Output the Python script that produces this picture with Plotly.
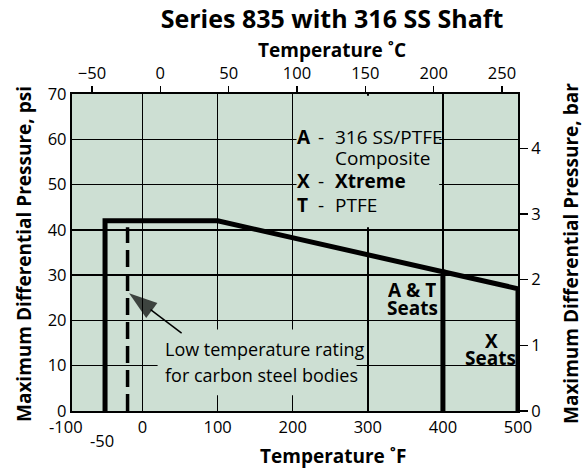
import plotly.graph_objects as go

# ---------------- data ----------------
at_temp_f = [-50, -50, 100, 400, 400]
at_psi = [0, 42, 42, 30.75, 0]
x_temp_f = [400, 500, 500]
x_psi = [30.75, 27, 0]
cs_temp_f = [-20, -20]
cs_psi = [0, 40.6]
arrow_temp_f = [52, -18]
arrow_psi = [17.2, 26]

f_ticks = [0, 100, 200, 300, 400, 500]
f_min_label = "-100"
f_low_label = "-50"
c_ticks = [-50, 0, 50, 100, 150, 200, 250]
psi_ticks = [0, 10, 20, 30, 40, 50, 60, 70]
bar_ticks = [0, 1, 2, 3, 4]
PSI_PER_BAR = 14.5038

F_RANGE = [-94, 500]
C_RANGE = [-64.6, 261.7]
PSI_MAX = 70

BG = "#cddfd3"
FONT = "Open Sans"

# plot-area geometry (pixels)
L, R, T, B = 72, 518, 94, 411
W, H = 583, 471


def px(x):
    return (x - L) / (R - L)


def py(y):
    return (B - y) / (B - T)


fig = go.Figure()

line_style = dict(color="black", width=5)
fig.add_trace(go.Scatter(x=at_temp_f, y=at_psi, mode="lines", line=line_style,
                         cliponaxis=False, hoverinfo="skip", showlegend=False))
fig.add_trace(go.Scatter(x=x_temp_f, y=x_psi, mode="lines", line=line_style,
                         cliponaxis=False, hoverinfo="skip", showlegend=False))
fig.add_trace(go.Scatter(x=cs_temp_f, y=cs_psi, mode="lines",
                         line=dict(color="black", width=3.5, dash="17px,7px"),
                         hoverinfo="skip", showlegend=False))
fig.add_trace(go.Scatter(x=arrow_temp_f, y=arrow_psi, mode="lines+markers",
                         line=dict(color="black", width=1.5),
                         marker=dict(symbol="arrow", size=[0, 30], color="black",
                                     angleref="previous", line=dict(width=0)),
                         hoverinfo="skip", showlegend=False))
# traces that bind the secondary axes
fig.add_trace(go.Scatter(x=[None], y=[None], xaxis="x2", yaxis="y", showlegend=False))
fig.add_trace(go.Scatter(x=[None], y=[None], xaxis="x", yaxis="y2", showlegend=False))

tickfont = dict(family=FONT, size=16.5, color="black")

fig.update_layout(
    width=W, height=H, autosize=False,
    margin=dict(l=L, r=W - R, t=T, b=H - B),
    paper_bgcolor="white", plot_bgcolor=BG,
    showlegend=False,
    title=dict(text="<b>Series 835 with 316 SS Shaft</b>", x=332 / W, y=1 - 19 / H,
               xanchor="center", yanchor="middle",
               font=dict(family=FONT, size=25, color="black")),
    xaxis=dict(range=F_RANGE, tickvals=f_ticks,
               showgrid=True, gridcolor="black", gridwidth=1.4,
               zeroline=False, showline=True, linecolor="black", linewidth=2.2,
               mirror=True, ticks="", tickfont=tickfont),
    xaxis2=dict(range=C_RANGE, tickvals=c_ticks,
                overlaying="x", side="top", showgrid=False, zeroline=False,
                ticks="outside", ticklen=7, tickwidth=1.3, tickcolor="black",
                tickfont=tickfont),
    yaxis=dict(range=[0, PSI_MAX], tickvals=psi_ticks, showgrid=True,
               gridcolor="black", gridwidth=1.4, zeroline=False, showline=True,
               linecolor="black", linewidth=2.2, mirror=True, ticks="",
               tickfont=tickfont),
    yaxis2=dict(range=[0, PSI_MAX / PSI_PER_BAR], tickvals=bar_ticks,
                overlaying="y", side="right", showgrid=False, zeroline=False,
                ticks="outside", ticklen=9, tickwidth=1.3, tickcolor="black",
                tickfont=tickfont),
)

# masks hiding gridlines behind the text blocks
fig.add_shape(type="rect", xref="x", yref="y", x0=205, x1=395, y0=40.6, y1=69.6,
              fillcolor=BG, line=dict(width=0), layer="between")
fig.add_shape(type="rect", xref="x", yref="y", x0=20, x1=285, y0=3.5, y1=18,
              fillcolor=BG, line=dict(width=0), layer="between")

ann = []


def text(x, y, s, size=16, bold=False, anchor="center", height=None):
    a = dict(xref="paper", yref="paper", x=px(x), y=py(y),
             text=f"<b>{s}</b>" if bold else s, showarrow=False,
             xanchor=anchor, yanchor="middle",
             font=dict(family=FONT, size=size, color="black"))
    if height:
        a["height"] = height
    ann.append(a)


text(332, 50, "Temperature ˚C", 19, True)
text(333, 456, "Temperature ˚F", 19, True)
ann.append(dict(xref="paper", yref="paper", x=px(24), y=py(254), textangle=-90,
                text="<b>Maximum Differential Pressure, psi</b>", showarrow=False,
                xanchor="center", yanchor="middle",
                font=dict(family=FONT, size=19, color="black")))
ann.append(dict(xref="paper", yref="paper", x=px(571), y=py(254), textangle=-90,
                text="<b>Maximum Differential Pressure, bar</b>", showarrow=False,
                xanchor="center", yanchor="middle",
                font=dict(family=FONT, size=19, color="black")))
# bottom-axis labels for the left edge and the -50 °F line
ann.append(dict(xref="paper", yref="paper", x=0, xshift=-6, y=py(427), text=f_min_label,
                showarrow=False, xanchor="center", yanchor="middle", font=tickfont))
ann.append(dict(xref="x", yref="paper", x=-50, xshift=-3, y=py(440), text=f_low_label,
                showarrow=False, xanchor="center", yanchor="middle", font=tickfont))

# legend block
for yy, letter, label, bold_label in [(137, "A", "316 SS/PTFE", False),
                                      (181, "X", "Xtreme", True),
                                      (205, "T", "PTFE", False)]:
    text(295, yy, letter, 19, True, "left")
    text(321, yy, "-", 19, False, "center")
    text(333, yy, label, 19, bold_label, "left")
text(333, 158, "Composite", 19, False, "left")

text(412, 290, "A &amp; T", 19, True, height=16)
text(412, 308, "Seats", 19, True, height=16)
text(491, 341, "X", 19, True, height=16)
text(490, 358, "Seats", 19, True, height=16)

text(163, 349, "Low temperature rating", 18, False, "left")
text(163, 375, "for carbon steel bodies", 18, False, "left")

fig.update_layout(annotations=ann)
fig.write_html(
    "out.html",
    config={"displayModeBar": False, "staticPlot": True},
    post_script="document.body.style.margin='0';document.body.style.overflow='hidden';",
)
